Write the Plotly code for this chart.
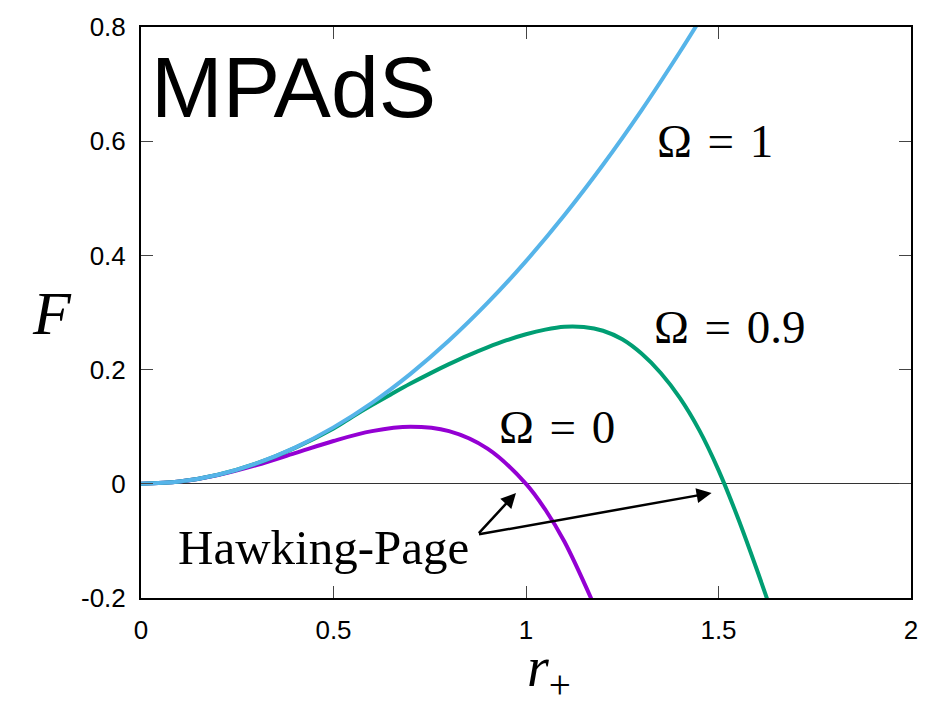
import plotly.graph_objects as go

# Data
r_omega0 = [0, 0.1, 0.2, 0.3, 0.4, 0.5, 0.6, 0.7, 0.8, 0.9, 1.0, 1.05, 1.1, 1.17]
F_omega0 = [0, 0.004, 0.0154, 0.0328, 0.0538, 0.075, 0.0922, 0.0999, 0.0922, 0.0616, 0.0, -0.045, -0.1016, -0.202]

r_omega09 = [0, 0.1, 0.2, 0.3, 0.4, 0.5, 0.55, 0.6, 0.65, 0.7, 0.75, 0.8, 0.85, 0.9, 0.95, 1.0, 1.05,
             1.1, 1.15, 1.2, 1.25, 1.3, 1.35, 1.4, 1.45, 1.5, 1.55, 1.6, 1.65]
F_omega09 = [0, 0.004, 0.0159, 0.0357, 0.063, 0.097, 0.118, 0.138, 0.157, 0.1755, 0.193, 0.2095, 0.225,
             0.239, 0.2515, 0.262, 0.270, 0.275, 0.2745, 0.268, 0.253, 0.228, 0.194, 0.150, 0.094,
             0.024, -0.059, -0.151, -0.248]

r_omega1 = [0, 0.1, 0.2, 0.3, 0.4, 0.5, 0.6, 0.7, 0.8, 0.9, 1.0, 1.1, 1.2, 1.3, 1.4, 1.45]
F_omega1 = [0, 0.004, 0.0159, 0.0357, 0.0634, 0.0988, 0.1418, 0.1926, 0.2509, 0.3167, 0.39, 0.4707,
            0.5587, 0.654, 0.7566, 0.8105]

x_ticks = [0, 0.5, 1, 1.5, 2]
x_tick_labels = ["0", "0.5", "1", "1.5", "2"]
y_ticks = [-0.2, 0, 0.2, 0.4, 0.6, 0.8]
y_tick_labels = ["-0.2", "0", "0.2", "0.4", "0.6", "0.8"]

fig = go.Figure()
fig.add_trace(go.Scatter(x=r_omega0, y=F_omega0, mode="lines", line=dict(color="#9400D3", width=4, shape="spline"), showlegend=False))
fig.add_trace(go.Scatter(x=r_omega09, y=F_omega09, mode="lines", line=dict(color="#009E73", width=4, shape="spline"), showlegend=False))
fig.add_trace(go.Scatter(x=r_omega1, y=F_omega1, mode="lines", line=dict(color="#56B4E9", width=4, shape="spline"), showlegend=False))

serif = "Liberation Serif"
tick_font = dict(family="Liberation Sans", size=26, color="black")
axis_common = dict(showline=True, linecolor="black", linewidth=2, mirror="ticks",
                   ticks="inside", ticklen=12, tickwidth=1, tickcolor="#444",
                   showgrid=False)

fig.update_xaxes(range=[0, 2], tickvals=x_ticks, ticktext=x_tick_labels, zeroline=False,
                 ticklabelstandoff=8, **axis_common)
fig.update_yaxes(range=[-0.2, 0.8], tickvals=y_ticks, ticktext=y_tick_labels,
                 zeroline=True, zerolinecolor="#333", zerolinewidth=1, ticklabelstandoff=8, **axis_common)
fig.update_xaxes(tickfont=tick_font)
fig.update_yaxes(tickfont=tick_font)

sp = "\u2004"
anns = [
    dict(x=0.397, y=0.695, text="MPAdS", font=dict(family="Liberation Sans", size=86, color="black")),
    dict(x=1.49, y=0.6, text=f"Ω{sp}={sp}1", font=dict(family=serif, size=47, color="black")),
    dict(x=1.53, y=0.275, text=f"Ω{sp}={sp}0.9", font=dict(family=serif, size=47, color="black")),
    dict(x=1.08, y=0.1, text=f"Ω{sp}={sp}0", font=dict(family=serif, size=47, color="black")),
    dict(x=0.474, y=-0.112, text="Hawking-Page", font=dict(family=serif, size=49, color="black")),
]
for a in anns:
    fig.add_annotation(xref="x", yref="y", showarrow=False, **a)

for hx in [0.974, 1.482]:
    fig.add_annotation(x=hx, y=-0.016, ax=0.874, ay=-0.089, xref="x", yref="y", axref="x", ayref="y",
                       text="", showarrow=True, arrowhead=2, arrowsize=1.2, arrowwidth=2.5, arrowcolor="black")

fig.add_annotation(xref="paper", yref="paper", x=-0.115, y=0.5, xanchor="center", yanchor="middle",
                   showarrow=False, text="<i>F</i>", font=dict(family=serif, size=62, color="black"))
fig.add_annotation(xref="paper", yref="paper", x=0.53, y=-0.128, xanchor="center", yanchor="middle",
                   showarrow=False, borderpad=0,
                   text="<i>r</i><sub>+</sub>", font=dict(family=serif, size=56, color="black"))

fig.update_layout(width=930, height=703, margin=dict(l=141, r=13, t=27, b=105),
                  plot_bgcolor="white", paper_bgcolor="white")
fig.write_html("out.html")
